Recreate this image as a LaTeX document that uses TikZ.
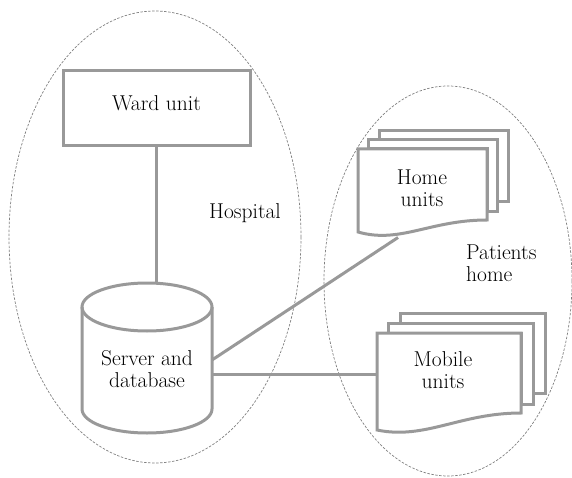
\documentclass[tikz,border=0pt]{standalone}
\begin{document}
\begin{tikzpicture}[x=1pt,y=-1pt,
  lc/.style={draw=black!40, line width=3pt, line join=miter},
  grp/.style={draw=black!50, line width=0.7pt, dash pattern=on 2.5pt off 1.5pt},
  lbl/.style={font=\fontsize{21.5}{22.5}\selectfont, text=black, align=center, inner sep=0pt}]
\useasboundingbox (0,0) rectangle (572,478);
% groups
\draw[grp] (155,237) ellipse [x radius=146, y radius=226];
\draw[grp] (448,281) ellipse [x radius=124, y radius=195];
% ward unit
\node[lc, fill=white, minimum width=187pt, minimum height=75pt, inner sep=0pt] (ward) at (156.5,108.5) {};
\node[lbl] (wardt) at (156.5,103) {Ward unit};
% server cylinder
\coordinate (srvtop) at (156.5,283);
\draw[lc, fill=white] (82,307) -- (82,409) .. controls (82,422.25) and (111.1,433) .. (147,433)
  .. controls (182.9,433) and (212,422.25) .. (212,409) -- (212,307);
\draw[lc] (147,307) ellipse [x radius=65, y radius=24];
\node[lbl] (srv) at (147,369) {Server and\\database};
\coordinate (s1) at (212,360);
\coordinate (s2) at (212,374);
% home units
\draw[lc] (379,140) -- (379,131) -- (508,131) -- (508,202) -- (497,202);
\draw[lc, fill=white] (368,149) -- (368,140) -- (497,140) -- (497,212) -- (487,212) -- (487,149) -- cycle;
\draw[lc, fill=white] (358,149) -- (487,149) -- (487,220) .. controls (430,220) and (400,244) .. (358,232) -- cycle;
\node[lbl] (home) at (422,188) {Home\\units};
\coordinate (homeb) at (398,237.5);
% mobile units
\draw[lc] (400,323) -- (400,313) -- (545,313) -- (545,393) -- (533,393);
\draw[lc, fill=white] (388,333) -- (388,323) -- (533,323) -- (533,404) -- (521,404) -- (521,333) -- cycle;
\draw[lc, fill=white] (377,333) -- (521,333) -- (521,413) .. controls (460,413) and (425,440) .. (377,430) -- cycle;
\node[lbl] (mob) at (443,370) {Mobile\\units};
\coordinate (mobl) at (377,374);
% connectors
\draw[lc] (ward.south) -- (srvtop);
\draw[lc] (s1) -- (homeb);
\draw[lc] (s2) -- (mobl);
% group labels
\node[lbl] (hosp) at (245,213) {Hospital};
\node[lbl, anchor=west, align=left] (pat) at (466,263) {Patients\\home};
\end{tikzpicture}
\end{document}
